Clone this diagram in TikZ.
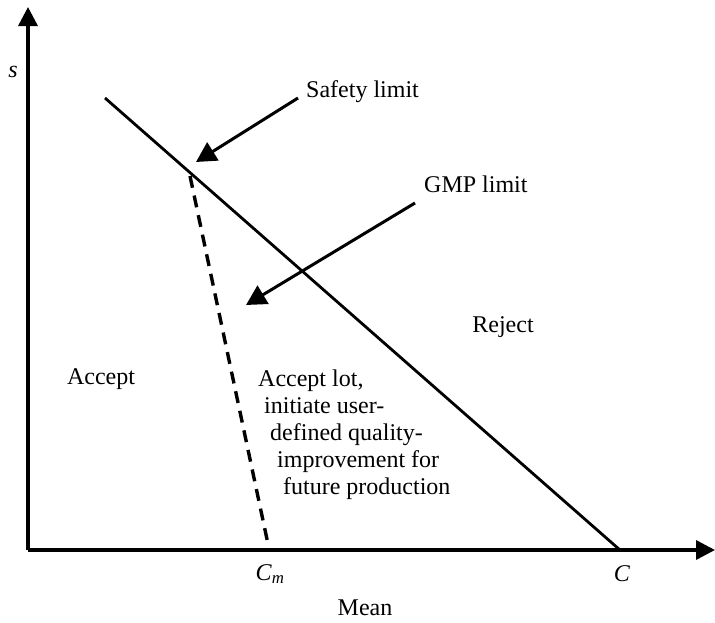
\documentclass[tikz,border=0pt]{standalone}
\usepackage{fontspec}
\setmainfont{Liberation Serif}
\usetikzlibrary{positioning,arrows.meta}

\begin{document}
\begin{tikzpicture}[x=1pt,y=-1pt,
  ax/.style={line width=3.4pt,-{Triangle[length=19pt,width=19pt]}},
  lim/.style={line width=2.8pt},
  pt/.style={line width=3pt,-{Triangle[length=20pt,width=21pt]}},
  lb/.style={inner sep=0pt,font=\fontsize{24}{27}\selectfont}]
\useasboundingbox (0,0) rectangle (715,622);

% --- axes ---
\coordinate (o) at (28,550);
\coordinate (ytop) at (28,7);
\coordinate (xend) at (715,550);
\draw[ax] (o) -- (ytop);
\draw[ax] (o) -- (xend);
\node[lb] (s) at (13,72) {\textit{s}};
\node[lb] (mean) at (365,608) {Mean};

% --- limits ---
\coordinate (sf) at (105,98);
\coordinate (c) at (620,550);
\coordinate (gt) at (190,176);
\coordinate (cm) at (268,544);
\draw[lim] (sf) -- (c);
\draw[lim,line width=3.4pt,dash pattern=on 12pt off 8pt] (gt) -- (cm);
\node[lb] (clab) at (622,574) {\textit{C}};
\node[lb] (cmlab) at (270,574) {\textit{C}\textsubscript{\textit{m}}};

% --- pointers ---
\node[lb,anchor=base west] (safety) at (306,97) {Safety limit};
\node[lb,anchor=base west] (gmp) at (424,192) {GMP limit};
\coordinate (sa) at (298,98);
\coordinate (sb) at (196,162);
\coordinate (ga) at (415,203);
\coordinate (gb) at (246,305);
\draw[pt] (sa) -- (sb);
\draw[pt] (ga) -- (gb);

% --- regions ---
\node[lb,anchor=base] (rej) at (503,332) {Reject};
\node[lb,anchor=base] (acc) at (101,384) {Accept};
\node[lb,anchor=north west,align=left] (note) at (258,370)
  {Accept lot,\\
   \hspace*{6pt}initiate user-\\
   \hspace*{12pt}defined quality-\\
   \hspace*{19pt}improvement for\\
   \hspace*{25pt}future production};
\end{tikzpicture}
\end{document}
